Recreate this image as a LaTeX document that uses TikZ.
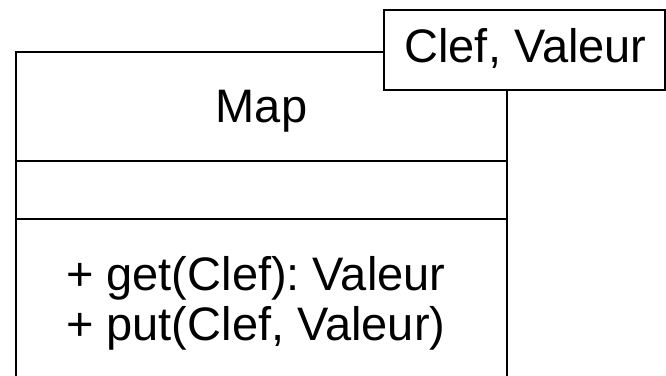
\documentclass[tikz,border=0pt]{standalone}
\usepackage{fontspec}
\setmainfont{Liberation Sans}
\frenchspacing
\begin{document}
\begin{tikzpicture}[x=1pt,y=1pt,
  umlfont/.style={font=\fontsize{47}{52}\selectfont},
  classbox/.style={draw=black, line width=1.6pt, fill=white, inner sep=0pt, outer sep=0pt},
  parambox/.style={draw=black, line width=1.4pt, fill=white, inner sep=0pt, outer sep=0pt},
  divider/.style={draw=black, line width=1.6pt},
  label/.style={umlfont, inner sep=0pt, anchor=base}]
\useasboundingbox (0,0) rectangle (666,375);
\clip (0,0) rectangle (666,375);

% class outline (runs past the lower edge)
\node[classbox, minimum width=491pt, minimum height=330pt, anchor=north west] (map) at (16,323) {};
% compartment dividers
\draw[divider] (map.west |- 0,214) -- (map.east |- 0,214);
\draw[divider] (map.west |- 0,156) -- (map.east |- 0,156);

% template parameters
\node[parambox, minimum width=281pt, minimum height=80pt, anchor=north west] (params) at (384,365) {};
\node[label] (ptext) at (525.5,312) {Clef, Valeur};

% class name and operations
\node[label] (name) at (261.5,252) {Map};
\node[label, anchor=base west] (get) at (66,85) {+ get(Clef): Valeur};
\node[label, anchor=base west] (put) at (66,35) {+ put(Clef, Valeur)};
\end{tikzpicture}
\end{document}
